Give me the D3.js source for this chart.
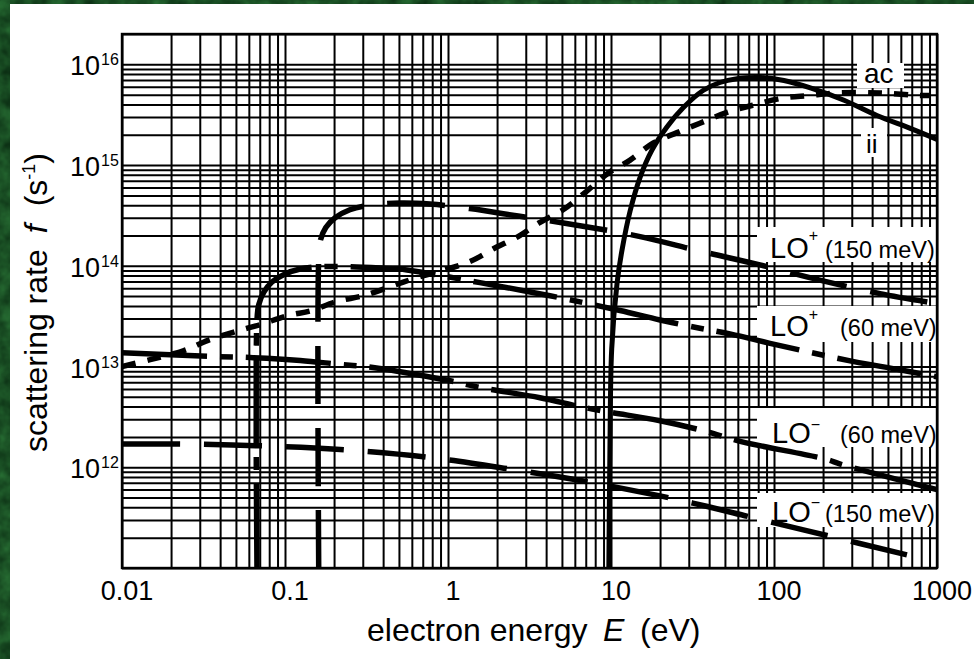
<!DOCTYPE html>
<html>
<head>
<meta charset="utf-8">
<script src="https://cdn.jsdelivr.net/npm/d3@7"></script>
<style>
html, body { margin: 0; padding: 0; background: #1e5a30; }
svg { display: block; }
text { font-family: "Liberation Sans", Arial, Helvetica, sans-serif; fill: #000; }
</style>
</head>
<body>
<svg id="chart" width="974" height="659"></svg>
<script>
// values: energy E (eV), rate f (1/s)
var acE = [0.01, 0.0149, 0.024, 0.0337, 0.0485, 0.07, 0.104, 0.146, 0.205, 0.31, 0.466, 0.655, 1.36, 1.94, 2.69, 3.67, 5.08, 6.9, 9.6, 13.1, 18.1, 25.4, 35.1, 52, 73, 111, 164, 250, 448, 776, 900];
var acF = [1.0e13, 1.17e13, 1.44e13, 1.82e13, 2.2e13, 2.6e13, 3.2e13, 3.6e13, 4.4e13, 5.1e13, 6.4e13, 7.7e13, 1.1e14, 1.5e14, 1.95e14, 2.7e14, 3.6e14, 5.3e14, 8.3e14, 1.12e15, 1.65e15, 2.1e15, 2.6e15, 3.35e15, 3.9e15, 4.6e15, 4.9e15, 5.2e15, 5.2e15, 4.9e15, 4.9e15];

var iiE = [9.7, 9.85, 10.1, 10.9, 11.7, 13.1, 15.1, 17.8, 22.1, 27.7, 36.7, 46.6, 59.3, 83, 115, 169, 269, 428, 692, 1000];
var iiF = [1e11, 1.5e12, 1.5e13, 6.8e13, 1.45e14, 3.5e14, 7.6e14, 1.4e15, 2.4e15, 3.7e15, 5.5e15, 6.6e15, 7.2e15, 7.4e15, 6.9e15, 5.8e15, 4.4e15, 3.1e15, 2.3e15, 1.8e15];

var loPlus150E = [0.161, 0.161, 0.165, 0.178, 0.203, 0.25, 0.33, 0.51, 0.775, 1.36, 2.76, 6.45, 15.1, 35.1, 82, 191, 447, 929];
var loPlus150F = [1e11, 1.15e14, 1.8e14, 2.4e14, 3.0e14, 3.6e14, 4.0e14, 4.2e14, 4.1e14, 3.7e14, 3.1e14, 2.5e14, 1.95e14, 1.4e14, 1.02e14, 7.2e13, 5.3e13, 4.3e13];

var loPlus60E = [0.0673, 0.0673, 0.069, 0.0743, 0.0832, 0.1, 0.124, 0.164, 0.25, 0.383, 0.56, 0.99, 1.57, 3.19, 5.6, 11.35, 20, 35.1, 54.5, 94.5, 168, 309, 590, 1000];
var loPlus60F = [1e11, 2.9e13, 4.1e13, 5.5e13, 6.9e13, 8.3e13, 9.3e13, 9.8e13, 9.8e13, 9.5e13, 9.1e13, 7.8e13, 6.8e13, 5.5e13, 4.6e13, 3.6e13, 2.9e13, 2.4e13, 2.1e13, 1.7e13, 1.38e13, 1.12e13, 9.3e12, 7.9e12];

var loMinus60E = [0.01, 0.0346, 0.061, 0.124, 0.218, 0.347, 0.99, 1.57, 3.67, 6.45, 9.5, 20, 37.1, 62.9, 209, 258, 1000];
var loMinus60F = [1.37e13, 1.26e13, 1.23e13, 1.15e13, 1.05e13, 9.8e12, 7.3e12, 6.2e12, 4.9e12, 4.0e12, 3.55e12, 2.9e12, 2.3e12, 1.8e12, 1.2e12, 1.07e12, 6.0e11];

var loMinus150E = [0.01, 0.0233, 0.073, 0.218, 0.74, 2.4, 6.74, 20, 38.5, 72, 211, 654];
var loMinus150F = [1.7e12, 1.7e12, 1.63e12, 1.5e12, 1.26e12, 9.6e11, 7.3e11, 5.2e11, 4.1e11, 3.2e11, 2.1e11, 1.35e11];

var xTickValues = [0.01, 0.1, 1, 10, 100, 1000];
var xTickLabels = ["0.01", "0.1", "1", "10", "100", "1000"];
var yTickExps = [12, 13, 14, 15, 16];

// plot frame (window.top is reserved, so use a box object)
var box = {l: 122, r: 937, t: 34, b: 568};

var svg = d3.select("#chart");

// green mottled background + white sheet
var defs = svg.append("defs");
var flt = defs.append("filter").attr("id", "tex").attr("x", 0).attr("y", 0).attr("width", 1).attr("height", 1)
    .attr("color-interpolation-filters", "sRGB");
flt.append("feTurbulence").attr("type", "fractalNoise").attr("baseFrequency", 0.06).attr("numOctaves", 3).attr("seed", 4);
flt.append("feColorMatrix").attr("type", "matrix")
    .attr("values", "0.16 0 0 0 0.02  0.36 0 0 0 0.13  0.18 0 0 0 0.05  0 0 0 0 1");
svg.append("rect").attr("width", 974).attr("height", 659).attr("filter", "url(#tex)");
svg.append("rect").attr("x", 10).attr("y", 4).attr("width", 964).attr("height", 655).attr("fill", "#fff");

defs.append("clipPath").attr("id", "plotclip")
    .append("rect").attr("x", box.l).attr("y", box.t).attr("width", box.r - box.l).attr("height", box.b - box.t);

var x = d3.scaleLog().domain([0.01, 1000]).range([box.l, box.r]);
var y = d3.scaleLog().domain([1e11, 2e16]).range([box.b, box.t]);

// full log grid
var gx = svg.append("g").attr("transform", "translate(0," + box.b + ")")
    .call(d3.axisBottom(x).tickValues(x.ticks()).tickSize(-(box.b - box.t)).tickFormat(""));
gx.select(".domain").remove();
gx.selectAll("line").attr("stroke", "#000").attr("stroke-width", 2);

var gy = svg.append("g").attr("transform", "translate(" + box.l + ",0)")
    .call(d3.axisLeft(y).tickValues(y.ticks()).tickSize(-(box.r - box.l)).tickFormat(""));
gy.select(".domain").remove();
gy.selectAll("line").attr("stroke", "#000").attr("stroke-width", 2);

// white patches behind the curve labels
var patches = [[857, 63, 47, 25], [861, 128, 26, 29], [757, 227, 180, 35], [757, 306, 180, 36], [757, 408, 180, 39], [757, 493, 180, 34]];
svg.selectAll(".patch").data(patches).enter().append("rect")
    .attr("x", d => d[0]).attr("y", d => d[1]).attr("width", d => d[2]).attr("height", d => d[3])
    .attr("fill", "#fff");

svg.append("rect").attr("x", box.l).attr("y", box.t).attr("width", box.r - box.l).attr("height", box.b - box.t)
    .attr("fill", "none").attr("stroke", "#000").attr("stroke-width", 2.4);

var line = d3.line()
    .x(d => x(d[0]))
    .y(d => y(d[1]))
    .curve(d3.curveCatmullRom.alpha(0.5));

function pairs(e, r) { return e.map((v, i) => [v, r[i]]); }

var curves = [
    {data: pairs(acE, acF), dash: "14,12", w: 5.5},
    {data: pairs(iiE, iiF), dash: null, w: 5},
    {data: pairs(loPlus150E, loPlus150F), dash: "58,24", w: 5.5},
    {data: pairs(loPlus60E, loPlus60F), dash: "85,13,13,13", w: 5.5},
    {data: pairs(loMinus60E, loMinus60F), dash: "85,13,13,13", w: 5.5},
    {data: pairs(loMinus150E, loMinus150F), dash: "58,24", w: 5.5}
];

svg.append("g").attr("clip-path", "url(#plotclip)")
    .selectAll("path").data(curves).enter().append("path")
    .attr("d", d => line(d.data))
    .attr("fill", "none")
    .attr("stroke", "#000")
    .attr("stroke-width", d => d.w)
    .attr("stroke-dasharray", d => d.dash);

// tick labels
svg.selectAll(".xt").data(xTickValues).enter().append("text")
    .attr("x", d => x(d) + 5).attr("y", 600)
    .attr("text-anchor", "middle").attr("font-size", 27)
    .text((d, i) => xTickLabels[i]);

yTickExps.forEach(function(k) {
    var yy = y(Math.pow(10, k));
    svg.append("text").attr("x", 100).attr("y", yy + 11)
        .attr("text-anchor", "end").attr("font-size", 27).text("10");
    svg.append("text").attr("x", 101).attr("y", yy + 1)
        .attr("font-size", 16).text(k);
});

// axis titles
var xt = svg.append("text").attr("y", 641).attr("font-size", 32);
xt.append("tspan").attr("x", 367).text("electron energy");
xt.append("tspan").attr("x", 603).attr("font-style", "italic").text("E");
xt.append("tspan").attr("x", 640).text("(eV)");

var yt = svg.append("text").attr("transform", "translate(47,452) rotate(-90)").attr("font-size", 32);
yt.append("tspan").text("scattering rate");
yt.append("tspan").attr("dx", 16).attr("font-style", "italic").text("f");
yt.append("tspan").attr("dx", 18).text("(s");
yt.append("tspan").attr("dy", -12).attr("font-size", 18).text("-1");
yt.append("tspan").attr("dy", 12).text(")");

// curve labels
svg.append("text").attr("x", 864).attr("y", 83).attr("font-size", 28).text("ac");
svg.append("text").attr("x", 866).attr("y", 153).attr("font-size", 26).text("ii");

function loLabel(xl, base, sign, supDy, rest, xr) {
    var t = svg.append("text").attr("y", base);
    t.append("tspan").attr("x", xl).attr("font-size", 29).text("LO");
    t.append("tspan").attr("dy", supDy).attr("font-size", 16).text(sign);
    t.append("tspan").attr("x", xr).attr("dy", -supDy).attr("font-size", 23.5).text(rest);
}
loLabel(770, 258, "+", -17, "(150 meV)", 825);
loLabel(770, 336, "+", -16, "(60 meV)", 840);
loLabel(772, 443, "\u2212", -13, "(60 meV)", 840);
loLabel(772, 522, "\u2212", -14, "(150 meV)", 825);
</script>
</body>
</html>
